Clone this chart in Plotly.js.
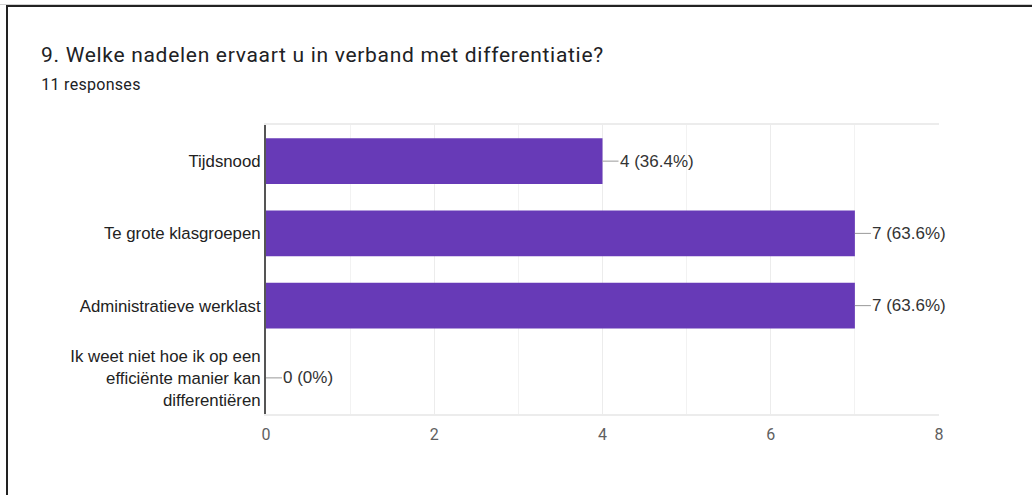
<!DOCTYPE html>
<html>
<head>
<meta charset="utf-8">
<script src="https://cdn.plot.ly/plotly-3.0.1.min.js"></script>
<style>
  html, body { margin: 0; padding: 0; background: #fff; }
  #wrap { position: relative; width: 1032px; height: 495px; overflow: hidden; }
  #frame { position: absolute; left: 6px; top: 5px; width: 1040px; height: 500px;
           border-top: 2px solid #222; border-left: 2px solid #222; box-sizing: border-box; pointer-events: none; z-index: 5; }
  #edge { position: absolute; left: 0; top: 4px; width: 1032px; height: 1px; background: #d0d0d0; }
  #chart { position: absolute; left: 0; top: 0; width: 1032px; height: 495px; }
  #chart .gtitle { letter-spacing: 0.7px; }
  #chart .annotation[data-index="4"] text { letter-spacing: 0.3px; }
</style>
</head>
<body>
<div id="wrap">
  <div id="chart"></div>
  <div id="edge"></div>
  <div id="frame"></div>
</div>
<script>
const titleText = "9. Welke nadelen ervaart u in verband met differentiatie?";
const subtitleText = "11 responses";
const categories = [
  "Tijdsnood",
  "Te grote klasgroepen",
  "Administratieve werklast",
  "Ik weet niet hoe ik op een<br>efficiënte manier kan<br>differentiëren"
];
const counts = [4, 7, 7, 0];
const valueLabels = ["4 (36.4%)", "7 (63.6%)", "7 (63.6%)", "0 (0%)"];
const xTicks = [0, 2, 4, 6, 8];

const barColor = "#673ab7";

const trace = {
  type: "bar",
  orientation: "h",
  x: counts,
  y: categories,
  marker: { color: barColor, line: { width: 0 } },
  hoverinfo: "none"
};

const annotations = categories.map((c, i) => ({
  x: counts[i], y: c, xref: "x", yref: "y",
  text: valueLabels[i],
  showarrow: true, arrowhead: 0, arrowwidth: 1, arrowcolor: "#999",
  ax: 16, ay: 0, xanchor: "left", standoff: 0, startstandoff: 0,
  borderpad: 0,
  font: { family: "Arial, 'Liberation Sans', sans-serif", size: 17, color: "#333" }
}));

annotations.push({
  text: subtitleText, xref: "paper", yref: "paper",
  x: (41 - 266) / 673, y: (414 - 84) / 289,
  xanchor: "left", yanchor: "middle", showarrow: false,
  font: { family: "Roboto, sans-serif", size: 16, color: "#202124" }
});

const layout = {
  width: 1032, height: 495,
  margin: { l: 266, r: 93, t: 125, b: 81, pad: 0 },
  paper_bgcolor: "rgba(0,0,0,0)", plot_bgcolor: "#fff",
  showlegend: false,
  bargap: 0.37,
  title: {
    text: titleText, xref: "container", yref: "container",
    x: 41 / 1032, xanchor: "left",
    y: 1 - 55 / 495, yanchor: "middle",
    font: { family: "Roboto, sans-serif", size: 21, color: "#202124" }
  },
  xaxis: {
    range: [0, 8], tickvals: xTicks, ticktext: xTicks.map(String),
    showgrid: true, gridcolor: "#ececec", gridwidth: 1,
    minor: { dtick: 1, showgrid: true, gridcolor: "#f2f2f2", gridwidth: 1 },
    zeroline: false,
    showline: true, linecolor: "#ececec", linewidth: 2, mirror: true,
    ticks: "", ticklabelstandoff: 5,
    tickfont: { family: "Roboto, sans-serif", size: 16, color: "#5f5f5f" },
    fixedrange: true
  },
  yaxis: {
    autorange: "reversed", type: "category",
    showgrid: false, zeroline: false,
    showline: true, linecolor: "#555", linewidth: 2,
    ticks: "", ticklabelstandoff: 0,
    tickfont: { family: "Arial, 'Liberation Sans', sans-serif", size: 16.8, color: "#222" },
    fixedrange: true
  },
  annotations: annotations
};

Plotly.newPlot("chart", [trace], layout, { displayModeBar: false, staticPlot: true });
</script>
</body>
</html>
